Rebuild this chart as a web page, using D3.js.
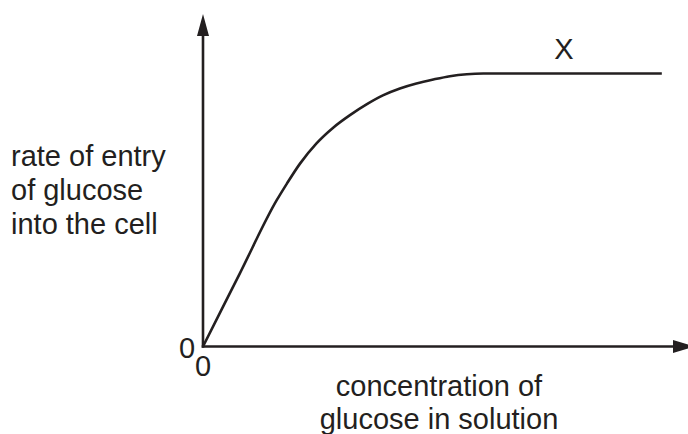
<!DOCTYPE html>
<html>
<head>
<meta charset="utf-8">
<script src="https://cdn.jsdelivr.net/npm/d3@7"></script>
<style>
  html, body { margin: 0; padding: 0; background: #fff; }
  svg { display: block; }
  text { font-family: "Liberation Sans", Arial, Helvetica, sans-serif; fill: #231f20; }
</style>
</head>
<body>
<svg id="chart" width="688" height="434"></svg>
<script>
// Data (concentration in arbitrary units, rate in arbitrary units)
const concentration = [0, 7.6, 15.2, 17.3, 20.0, 23.4, 26.9, 30.3, 33.8, 37.2, 40.6, 44.0, 47.5, 50.9, 54.4, 57.8, 94.6];
const rate          = [0, 22.0, 44.0, 49.0, 55.0, 61.1, 65.9, 69.6, 72.9, 75.6, 77.6, 79.1, 80.3, 81.3, 81.9, 82.1, 82.1];
const yLabelLines = ["rate of entry", "of glucose", "into the cell"];
const xLabelLines = ["concentration of", "glucose in solution"];
const originLabel = "0";
const curveLabel = "X";

const svg = d3.select("#chart");
const ink = "#231f20";

const x = d3.scaleLinear().domain([0, 100]).range([203, 688]);
const y = d3.scaleLinear().domain([0, 100]).range([346.5, 14]);

// Axes (no ticks)
svg.append("g")
  .attr("transform", `translate(0,${y(0)})`)
  .call(d3.axisBottom(x).tickValues([]).tickSizeOuter(0))
  .call(g => g.select(".domain").attr("stroke", ink).attr("stroke-width", 2.6).attr("d", `M${x(0) - 1.3},0H${x(100) - 12}`));

svg.append("g")
  .attr("transform", `translate(${x(0)},0)`)
  .call(d3.axisLeft(y).tickValues([]).tickSizeOuter(0))
  .call(g => g.select(".domain").attr("stroke", ink).attr("stroke-width", 2.6).attr("d", `M0,${y(0) + 1.3}V${y(100) + 16}`));

// Arrowheads
const yTip = [x(0), y(100)];
svg.append("path")
  .attr("d", `M${yTip[0]},${yTip[1]} L${yTip[0] - 6},${yTip[1] + 22} L${yTip[0] + 6},${yTip[1] + 22} Z`)
  .attr("fill", ink);
const xTip = [x(100) + 7, y(0)];
svg.append("path")
  .attr("d", `M${xTip[0]},${xTip[1]} L${xTip[0] - 22},${xTip[1] - 6.5} L${xTip[0] - 22},${xTip[1] + 6.5} Z`)
  .attr("fill", ink);

// Curve
const pts = concentration.map((c, i) => [c, rate[i]]);
const line = d3.line().x(d => x(d[0])).y(d => y(d[1])).curve(d3.curveMonotoneX);
svg.append("path")
  .datum(pts)
  .attr("d", line)
  .attr("fill", "none")
  .attr("stroke", ink)
  .attr("stroke-width", 2.6)
  .attr("stroke-linejoin", "round");

const fs = 29;

// Curve label
svg.append("text")
  .attr("x", 564).attr("y", 59)
  .attr("text-anchor", "middle")
  .style("font-size", fs + "px")
  .text(curveLabel);

// Y label
svg.append("g").selectAll("text")
  .data(yLabelLines).join("text")
  .attr("x", 11)
  .attr("y", (d, i) => 166 + i * 34)
  .style("font-size", fs + "px")
  .text(d => d);

// X label
svg.append("g").selectAll("text")
  .data(xLabelLines).join("text")
  .attr("x", 439)
  .attr("y", (d, i) => 396 + i * 32.5)
  .attr("text-anchor", "middle")
  .style("font-size", fs + "px")
  .text(d => d);

// Origin labels
svg.append("text")
  .attr("x", x(0) - 24).attr("y", 358)
  .style("font-size", fs + "px")
  .text(originLabel);
svg.append("text")
  .attr("x", x(0) - 8).attr("y", 376)
  .style("font-size", fs + "px")
  .text(originLabel);
</script>
</body>
</html>
